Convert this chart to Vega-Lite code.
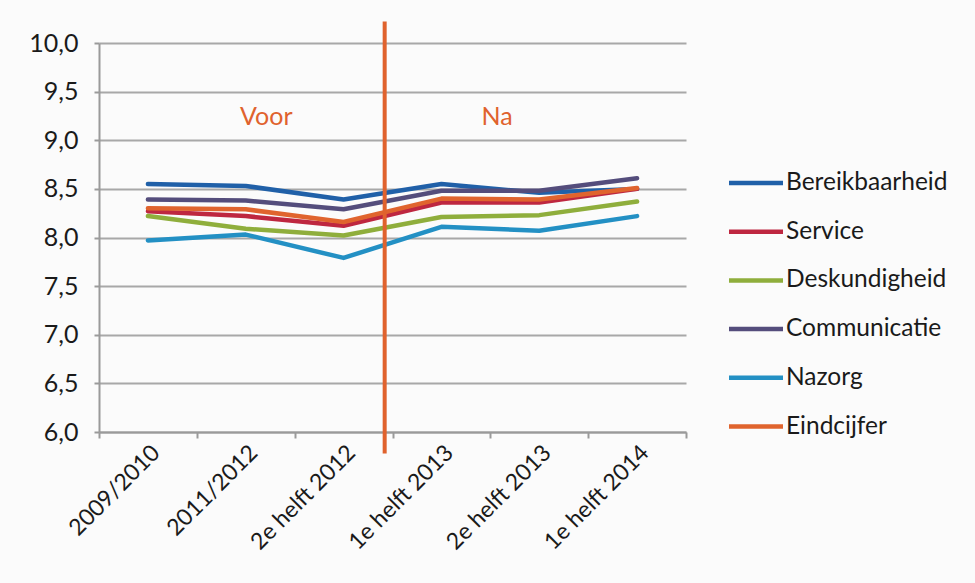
{
  "$schema": "https://vega.github.io/schema/vega-lite/v6.json",
  "autosize": {"type": "none"},
  "width": 587,
  "height": 389,
  "padding": {"left": 99, "top": 43, "right": 289, "bottom": 151},
  "background": "#fbfbfb",
  "config": {
    "font": "Lato",
    "view": {"stroke": null},
    "axis": {"labelFont": "Lato", "labelColor": "#1a1a1a", "labelFontSize": 25, "domainColor": "#9a9a9a", "tickColor": "#9a9a9a", "gridColor": "#a8a8a8", "domainWidth": 2, "tickWidth": 2, "gridWidth": 2},
    "legend": {"labelFont": "Lato", "labelColor": "#1a1a1a", "labelFontSize": 24.5, "labelLimit": 400}
  },
  "datasets": {
    "scores": [
      {"periode": "2009/2010", "aspect": "Bereikbaarheid", "cijfer": 8.55},
      {"periode": "2011/2012", "aspect": "Bereikbaarheid", "cijfer": 8.53},
      {"periode": "2e helft 2012", "aspect": "Bereikbaarheid", "cijfer": 8.39},
      {"periode": "1e helft 2013", "aspect": "Bereikbaarheid", "cijfer": 8.55},
      {"periode": "2e helft 2013", "aspect": "Bereikbaarheid", "cijfer": 8.46},
      {"periode": "1e helft 2014", "aspect": "Bereikbaarheid", "cijfer": 8.50},
      {"periode": "2009/2010", "aspect": "Service", "cijfer": 8.27},
      {"periode": "2011/2012", "aspect": "Service", "cijfer": 8.22},
      {"periode": "2e helft 2012", "aspect": "Service", "cijfer": 8.12},
      {"periode": "1e helft 2013", "aspect": "Service", "cijfer": 8.36},
      {"periode": "2e helft 2013", "aspect": "Service", "cijfer": 8.36},
      {"periode": "1e helft 2014", "aspect": "Service", "cijfer": 8.50},
      {"periode": "2009/2010", "aspect": "Deskundigheid", "cijfer": 8.22},
      {"periode": "2011/2012", "aspect": "Deskundigheid", "cijfer": 8.09},
      {"periode": "2e helft 2012", "aspect": "Deskundigheid", "cijfer": 8.02},
      {"periode": "1e helft 2013", "aspect": "Deskundigheid", "cijfer": 8.21},
      {"periode": "2e helft 2013", "aspect": "Deskundigheid", "cijfer": 8.23},
      {"periode": "1e helft 2014", "aspect": "Deskundigheid", "cijfer": 8.37},
      {"periode": "2009/2010", "aspect": "Communicatie", "cijfer": 8.39},
      {"periode": "2011/2012", "aspect": "Communicatie", "cijfer": 8.38},
      {"periode": "2e helft 2012", "aspect": "Communicatie", "cijfer": 8.29},
      {"periode": "1e helft 2013", "aspect": "Communicatie", "cijfer": 8.48},
      {"periode": "2e helft 2013", "aspect": "Communicatie", "cijfer": 8.48},
      {"periode": "1e helft 2014", "aspect": "Communicatie", "cijfer": 8.61},
      {"periode": "2009/2010", "aspect": "Nazorg", "cijfer": 7.97},
      {"periode": "2011/2012", "aspect": "Nazorg", "cijfer": 8.03},
      {"periode": "2e helft 2012", "aspect": "Nazorg", "cijfer": 7.79},
      {"periode": "1e helft 2013", "aspect": "Nazorg", "cijfer": 8.11},
      {"periode": "2e helft 2013", "aspect": "Nazorg", "cijfer": 8.07},
      {"periode": "1e helft 2014", "aspect": "Nazorg", "cijfer": 8.22},
      {"periode": "2009/2010", "aspect": "Eindcijfer", "cijfer": 8.30},
      {"periode": "2011/2012", "aspect": "Eindcijfer", "cijfer": 8.29},
      {"periode": "2e helft 2012", "aspect": "Eindcijfer", "cijfer": 8.16},
      {"periode": "1e helft 2013", "aspect": "Eindcijfer", "cijfer": 8.40},
      {"periode": "2e helft 2013", "aspect": "Eindcijfer", "cijfer": 8.39},
      {"periode": "1e helft 2014", "aspect": "Eindcijfer", "cijfer": 8.51}
    ]
  },
  "layer": [
    {
      "data": {"name": "scores"},
      "mark": {"type": "line", "strokeWidth": 4.5, "strokeCap": "round", "strokeJoin": "round"},
      "encoding": {
        "x": {
          "field": "periode", "type": "nominal", "sort": null, "bandPosition": 0.5,
          "scale": {"type": "band", "paddingInner": 0, "paddingOuter": 0},
          "axis": {"title": null, "labelAngle": -45, "labelFontSize": 23, "tickBand": "extent", "tickSize": 6, "labelPadding": 3, "grid": false}
        },
        "y": {
          "field": "cijfer", "type": "quantitative",
          "scale": {"domain": [6, 10], "nice": false, "zero": false},
          "axis": {"title": null, "values": [6, 6.5, 7, 7.5, 8, 8.5, 9, 9.5, 10], "labelExpr": "replace(format(datum.value, '.1f'), '.', ',')", "tickSize": 5, "labelPadding": 16, "grid": true}
        },
        "color": {
          "field": "aspect", "type": "nominal",
          "scale": {
            "domain": ["Bereikbaarheid", "Service", "Deskundigheid", "Communicatie", "Nazorg", "Eindcijfer"],
            "range": ["#2060a8", "#be2740", "#8fae3c", "#544d7c", "#2390c4", "#e0642e"]
          },
          "legend": {
            "title": null, "orient": "none", "legendX": 641, "legendY": 124, "padding": 0,
            "symbolType": "M-2,0H2", "symbolSize": 729, "symbolStrokeWidth": 4.5,
            "labelOffset": 14, "rowPadding": 20.7
          }
        }
      }
    },
    {
      "data": {"values": [{"grens": "Voor/Na"}]},
      "mark": {"type": "rule", "color": "#e0622d", "strokeWidth": 4},
      "encoding": {
        "x": {"datum": "2e helft 2012", "type": "nominal", "bandPosition": 0.92},
        "y": {"datum": 10.22, "type": "quantitative"},
        "y2": {"datum": 5.78}
      }
    },
    {
      "data": {"values": [{"label": "Voor"}]},
      "mark": {"type": "text", "color": "#e0622d", "fontSize": 25, "font": "Lato", "baseline": "middle", "align": "center"},
      "encoding": {
        "x": {"datum": "2011/2012", "type": "nominal", "bandPosition": 0.71},
        "y": {"datum": 9.24, "type": "quantitative"},
        "text": {"field": "label"}
      }
    },
    {
      "data": {"values": [{"label": "Na"}]},
      "mark": {"type": "text", "color": "#e0622d", "fontSize": 25, "font": "Lato", "baseline": "middle", "align": "center"},
      "encoding": {
        "x": {"datum": "2e helft 2013", "type": "nominal", "bandPosition": 0.07},
        "y": {"datum": 9.24, "type": "quantitative"},
        "text": {"field": "label"}
      }
    }
  ]
}
